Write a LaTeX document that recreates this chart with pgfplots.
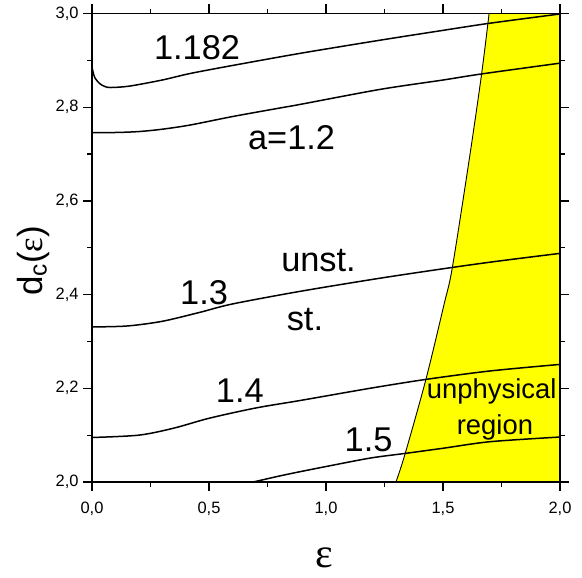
\documentclass[border=0pt]{standalone}
\usepackage{pgfplots}
\pgfplotsset{compat=1.18}
\usepackage{fontspec}
\setmainfont{Liberation Sans}
\newfontfamily\seriffont{Liberation Serif}
\definecolor{pureyellow}{RGB}{255,255,0}
\begin{document}
\begin{tikzpicture}
\begin{axis}[
  at={(0,0)}, anchor=south west, scale only axis,
  width=468bp, height=468.5bp,
  xmin=0, xmax=2, ymin=2, ymax=3,
  xtick={0,0.5,1,1.5,2}, xticklabels={{0,0},{0,5},{1,0},{1,5},{2,0}},
  ytick={2,2.2,2.4,2.6,2.8,3}, yticklabels={{2,0},{2,2},{2,4},{2,6},{2,8},{3,0}},
  minor x tick num=1, minor y tick num=1,
  tick align=outside, xtick pos=both, ytick pos=both,
  xticklabel pos=lower, yticklabel pos=left,
  major tick length=9bp, minor tick length=4.5bp,
  every tick/.style={black, line width=1.3bp},
  axis line style={line width=1.5bp},
  tick label style={font=\fontsize{16.5}{19}\selectfont},
  xticklabel style={yshift=-8bp},
  yticklabel style={xshift=-1bp},
  clip mode=individual,
  axis on top,
]
% unphysical region
\addplot[fill=pureyellow, draw=none] coordinates {
 (1.299,2.0) (1.338,2.060) (1.427,2.219) (1.504,2.378) (1.540,2.458)
 (1.615,2.698) (1.665,2.871) (1.697,3.0) (2,3) (2,2)} -- cycle;
\addplot[black, line width=0.9bp, smooth] coordinates {
 (1.299,2.0) (1.338,2.060) (1.427,2.219) (1.504,2.378) (1.540,2.458)
 (1.615,2.698) (1.665,2.871) (1.697,3.0)};
% curves
\addplot[black, line width=1.5bp, smooth] coordinates {
 (0,2.886) (0.004,2.876) (0.013,2.862) (0.034,2.850) (0.056,2.844) (0.08,2.842)
 (0.16,2.845) (0.3,2.858) (0.42,2.872) (0.6,2.889) (0.89,2.915) (1.231,2.943)
 (1.5,2.964) (1.697,2.979) (2.0,2.999)};
\addplot[black, line width=1.5bp, smooth] coordinates {
 (0,2.746) (0.1,2.746) (0.2,2.748) (0.3,2.753) (0.42,2.762) (0.6,2.780)
 (0.8,2.798) (0.89,2.806) (1.231,2.838) (1.5,2.858) (1.665,2.871) (2.0,2.894)};
\addplot[black, line width=1.5bp, smooth] coordinates {
 (0,2.331) (0.15,2.333) (0.3,2.343) (0.46,2.362) (0.6,2.380) (0.89,2.407)
 (1.231,2.435) (1.54,2.458) (1.744,2.472) (2.0,2.488)};
\addplot[black, line width=1.5bp, smooth] coordinates {
 (0,2.095) (0.2,2.100) (0.35,2.115) (0.5,2.136) (0.7,2.158) (0.89,2.174)
 (1.188,2.200) (1.427,2.219) (1.701,2.237) (2.0,2.251)};
\addplot[black, line width=1.5bp, smooth] coordinates {
 (0.689,2.0) (0.803,2.013) (0.889,2.022) (1.0,2.033) (1.188,2.051)
 (1.338,2.061) (1.5,2.072) (1.701,2.086) (2.0,2.096)};
% labels
\node[anchor=base, font=\fontsize{34.5}{38}\selectfont] at (axis cs:0.449,2.901) {1.182};
\node[anchor=base, font=\fontsize{34.5}{38}\selectfont] at (axis cs:0.853,2.709) {a=1.2};
\node[anchor=base, font=\fontsize{34.5}{38}\selectfont] at (axis cs:0.968,2.449) {unst.};
\node[anchor=base, font=\fontsize{34.5}{38}\selectfont] at (axis cs:0.910,2.324) {st.};
\node[anchor=base, font=\fontsize{34.5}{38}\selectfont] at (axis cs:0.479,2.378) {1.3};
\node[anchor=base, font=\fontsize{34.5}{38}\selectfont] at (axis cs:0.632,2.169) {1.4};
\node[anchor=base, font=\fontsize{34.5}{38}\selectfont] at (axis cs:1.182,2.066) {1.5};
\node[anchor=base, font=\fontsize{27.5}{31}\selectfont] at (axis cs:1.708,2.179) {unphysical};
\node[anchor=base, font=\fontsize{27.5}{31}\selectfont] at (axis cs:1.722,2.102) {region};
% axis labels
\node[font=\fontsize{42}{46}\selectfont\seriffont] at (axis cs:0.991,1.838) {ε};
\node[rotate=90, font=\fontsize{35}{40}\selectfont] at (axis cs:-0.252,2.472) {d\textsubscript{c}({\seriffont ε})};
\end{axis}
\pgfresetboundingbox
\path (-92bp,-96bp) rectangle (490bp,482bp);
\end{tikzpicture}
\end{document}
